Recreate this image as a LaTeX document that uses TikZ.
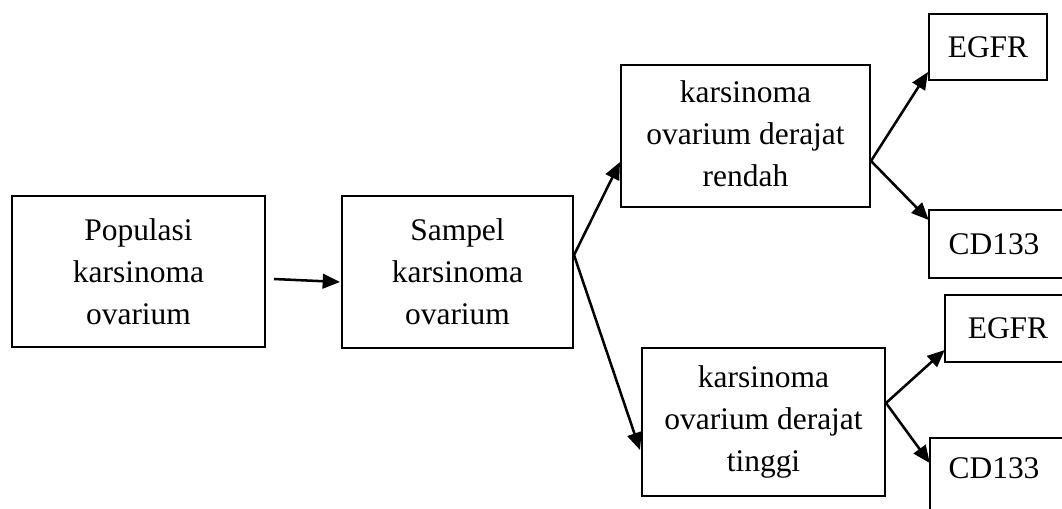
\documentclass[tikz,border=0pt]{standalone}
\usepackage{fontspec}
\setmainfont{Liberation Serif}
\usetikzlibrary{arrows.meta,calc}
\begin{document}
\begin{tikzpicture}[x=0.75pt,y=-0.75pt,
  box/.style={draw,line width=1.5pt,inner sep=0pt,align=center,
    font=\fontsize{23.6pt}{31.5pt}\selectfont},
  txt/.style={inner sep=0pt,align=center,font=\fontsize{23.6pt}{31.5pt}\selectfont},
  open/.style={line width=1.5pt},
  arr/.style={line width=1.9pt,-{Triangle[length=13pt,width=11pt]}}]
\useasboundingbox (0,0) rectangle (1062,508);
\clip (0,0) rectangle (1062,508);
\node[box,minimum width=189.75pt,minimum height=113.25pt] (b1) at (138.5,271.5)
  {Populasi\\karsinoma\\ovarium};
\node[box,minimum width=173.25pt,minimum height=114pt] (b2) at (457.5,272)
  {Sampel\\karsinoma\\ovarium};
\node[box,minimum width=186.75pt,minimum height=106.5pt] (b3) at (745.5,136)
  {\raisebox{-3.5pt}{\begin{tabular}{@{}c@{}}karsinoma\\ovarium derajat\\rendah\end{tabular}}};
\node[box,minimum width=182.25pt,minimum height=111pt] (b4) at (763.5,422)
  {karsinoma\\ovarium derajat\\tinggi};
\node[box,minimum width=88.5pt,minimum height=49.5pt] (e1) at (988,47) {EGFR};
\node[txt,minimum width=97.5pt,minimum height=51pt] (c1) at (994,244) {CD133};
\draw[open] ($(c1.north west)+(200,0)$) -- (c1.north west) -- (c1.south west) -- ++(200,0);
\node[txt,minimum width=94.5pt,minimum height=50.25pt] (e2) at (1008,328.5) {EGFR};
\draw[open] ($(e2.north west)+(200,0)$) -- (e2.north west) -- (e2.south west) -- ++(200,0);
\node[txt,minimum width=96pt,minimum height=45pt] (c2) at (994,468) {CD133};
\draw[open] ($(c2.north west)+(200,0)$) -- (c2.north west) -- ++(0,100);
\draw[arr] ($(b1.east)+(8,7.5)$) -- ($(b2.west)+(-1,10)$);
\draw[arr] ($(b2.east)+(0,-17)$) -- ($(b3.west)+(0,26)$);
\draw[arr] ($(b2.east)+(0,-17)$) -- ($(b4.west)+(-1,28)$);
\draw[arr] ($(b3.east)+(0,25)$) -- ($(e1.west)+(0,25)$);
\draw[arr] ($(b3.east)+(0,25)$) -- ($(c1.west)+(0,-24)$);
\draw[arr] ($(b4.east)+(0,-19)$) -- ($(e2.west)+(0,21.5)$);
\draw[arr] ($(b4.east)+(0,-19)$) -- ($(c2.west)+(0,-5)$);
\end{tikzpicture}
\end{document}
